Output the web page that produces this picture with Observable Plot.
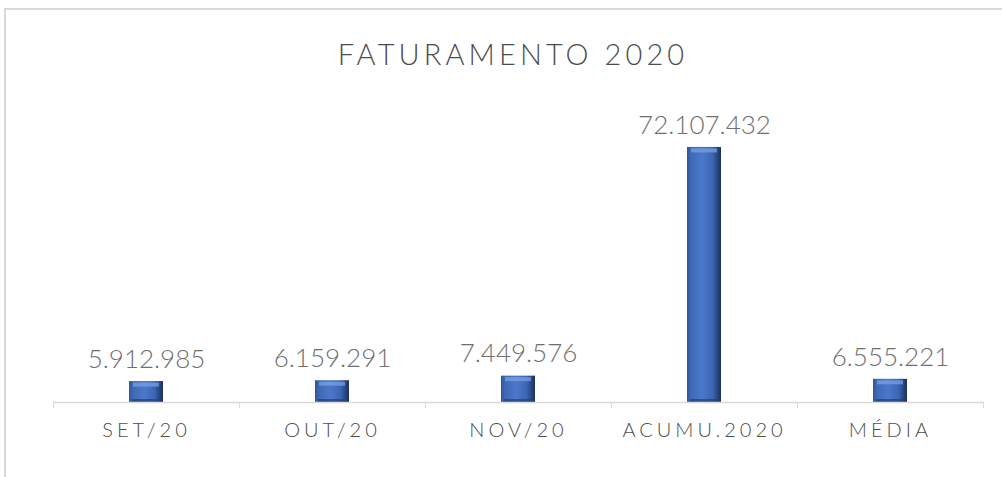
<!DOCTYPE html>
<html>
<head>
<meta charset="utf-8">
<script src="https://cdn.jsdelivr.net/npm/d3@7"></script>
<script src="https://cdn.jsdelivr.net/npm/@observablehq/plot@0.6"></script>
<style>
  html, body { margin: 0; padding: 0; background: #fff; width: 1002px; height: 477px; overflow: hidden; }
  #frame { position: absolute; left: 4px; top: 8px; width: 1200px; height: 600px;
           border-left: 2px solid #d9d9d9; border-top: 2px solid #d9d9d9; z-index: 2; pointer-events: none; }
  #title { position: absolute; left: 0; top: 36px; width: 1026px; text-align: center;
           font-family: "Century Gothic", "Lato", sans-serif; font-weight: 300; font-size: 29px; letter-spacing: 4.1px;
           color: #4d4d4d; z-index: 3; }
  #chart { position: absolute; left: 0; top: 100px; }
</style>
</head>
<body>
<div id="frame"></div>
<div id="title">FATURAMENTO 2020</div>
<div id="chart"></div>
<script>
const categories = ["SET/20", "OUT/20", "NOV/20", "ACUMU.2020", "MÉDIA"];
const values = [5912985, 6159291, 7449576, 72107432, 6555221];

const fmt = d3.formatLocale({decimal: ",", thousands: ".", grouping: [3], currency: ["R$", ""]}).format(",d");
const data = categories.map((c, i) => ({cat: c, i, value: values[i]}));

const defs = () => {
  const ns = "http://www.w3.org/2000/svg";
  const d = document.createElementNS(ns, "defs");
  d.innerHTML = `
    <linearGradient id="barH" x1="0" x2="1" y1="0" y2="0">
      <stop offset="0" stop-color="#2f5597"/>
      <stop offset="0.12" stop-color="#3f69b5"/>
      <stop offset="0.45" stop-color="#4a78cc"/>
      <stop offset="0.75" stop-color="#3c66b3"/>
      <stop offset="0.88" stop-color="#2a4a86"/>
      <stop offset="1" stop-color="#1c3057"/>
    </linearGradient>`;
  return d;
};

const plot = Plot.plot({
  width: 1002,
  height: 377,
  marginLeft: 53,
  marginRight: 19,
  marginTop: 19,
  marginBottom: 75,
  style: {background: "transparent", fontFamily: "'Century Gothic', Lato, sans-serif", fontWeight: 300},
  x: {type: "linear", domain: [0, 5], axis: null},
  y: {domain: [0, 80000000], axis: null},
  marks: [
    defs,
    Plot.rectY(data, {x1: d => d.i, x2: d => d.i + 1, y1: 0, y2: "value", insetLeft: 76, insetRight: 76, fill: "url(#barH)"}),
    Plot.ruleY(data, {x1: d => d.i, x2: d => d.i + 1, y: "value", insetLeft: 80, insetRight: 80, dy: 3, stroke: "#7fa3e6", strokeWidth: 4, strokeOpacity: 0.7}),
    Plot.ruleY(data, {x1: d => d.i, x2: d => d.i + 1, y: 0, insetLeft: 79, insetRight: 79, dy: -2, stroke: "#243f73", strokeWidth: 3, strokeOpacity: 0.7}),
    Plot.ruleY([0], {x1: 0, x2: 5, stroke: "#d9d9d9", strokeWidth: 1.5}),
    Plot.axisX([0, 1, 2, 3, 4, 5], {tickSize: 6, tickFormat: () => "", stroke: "#d9d9d9"}),
    Plot.axisX(categories.map((c, i) => i + 0.5), {tickSize: 0, tickPadding: 20, tickFormat: v => categories[Math.round(v - 0.5)], fontSize: 20, fill: "#4d4d4d"}),
    Plot.text(data, {x: d => d.i + 0.5, y: "value", text: d => fmt(d.value), dy: -22, fontSize: 26, fill: "#6f6f6f"})
  ]
});
d3.select(plot).selectAll('g[aria-label="x-axis tick label"] text').style("letter-spacing", "4px");
document.getElementById("chart").appendChild(plot);
</script>
</body>
</html>
